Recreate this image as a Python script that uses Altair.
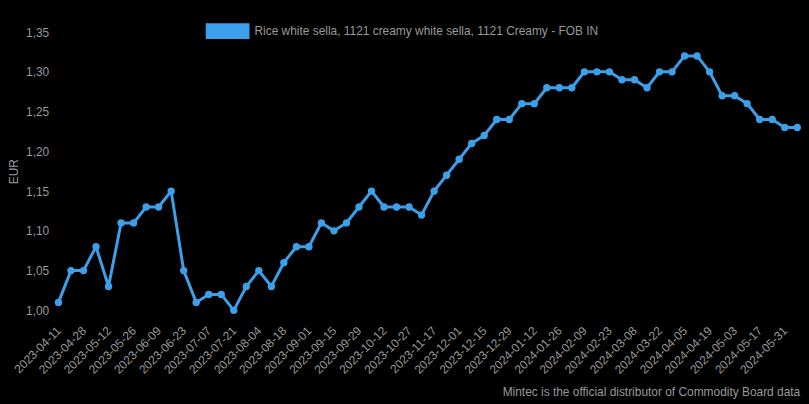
import altair as alt
import pandas as pd

series_name = "Rice white sella, 1121 creamy white sella, 1121 Creamy - FOB IN"

dates = [
    "2023-04-11", "2023-04-21", "2023-04-28", "2023-05-05", "2023-05-12", "2023-05-19",
    "2023-05-26", "2023-06-02", "2023-06-09", "2023-06-16", "2023-06-23", "2023-06-30",
    "2023-07-07", "2023-07-14", "2023-07-21", "2023-07-28", "2023-08-04", "2023-08-11",
    "2023-08-18", "2023-08-25", "2023-09-01", "2023-09-08", "2023-09-15", "2023-09-22",
    "2023-09-29", "2023-10-06", "2023-10-12", "2023-10-20", "2023-10-27", "2023-11-03",
    "2023-11-17", "2023-11-24", "2023-12-01", "2023-12-08", "2023-12-15", "2023-12-22",
    "2023-12-29", "2024-01-05", "2024-01-12", "2024-01-19", "2024-01-26", "2024-02-02",
    "2024-02-09", "2024-02-16", "2024-02-23", "2024-03-01", "2024-03-08", "2024-03-15",
    "2024-03-22", "2024-03-29", "2024-04-05", "2024-04-12", "2024-04-19", "2024-04-26",
    "2024-05-03", "2024-05-10", "2024-05-17", "2024-05-24", "2024-05-31", "2024-06-07",
]

prices = [
    1.01, 1.05, 1.05, 1.08, 1.03, 1.11, 1.11, 1.13, 1.13, 1.15,
    1.05, 1.01, 1.02, 1.02, 1.00, 1.03, 1.05, 1.03, 1.06, 1.08,
    1.08, 1.11, 1.10, 1.11, 1.13, 1.15, 1.13, 1.13, 1.13, 1.12,
    1.15, 1.17, 1.19, 1.21, 1.22, 1.24, 1.24, 1.26, 1.26, 1.28,
    1.28, 1.28, 1.30, 1.30, 1.30, 1.29, 1.29, 1.28, 1.30, 1.30,
    1.32, 1.32, 1.30, 1.27, 1.27, 1.26, 1.24, 1.24, 1.23, 1.23,
]

tick_labels = dates[0::2]
y_ticks = [1.00, 1.05, 1.10, 1.15, 1.20, 1.25, 1.30, 1.35]

df = pd.DataFrame({"date": dates, "price": prices, "series": [series_name] * len(dates)})

blue = "#3ba0e9"
grey = "#999999"
font = "Liberation Sans"

# Black page background so the 8px page margin matches the chart background
try:
    import altair.utils.html as _ah

    _orig_tpl = _ah.TEMPLATES["standard"]

    class _BlackPage:
        def render(self, *args, **kwargs):
            html = _orig_tpl.render(*args, **kwargs)
            return html.replace(
                "<head>",
                "<head><style>html,body{background:#000;overflow:hidden;}</style>",
                1,
            )

    _ah.TEMPLATES["standard"] = _BlackPage()
except Exception:
    pass

x_enc = alt.X(
    "date:N",
    sort=None,
    scale=alt.Scale(type="point", padding=0.3),
    axis=alt.Axis(
        values=tick_labels,
        title=None,
        labelAngle=-45,
        labelAlign="right",
        labelBaseline="middle",
        labelPadding=10,
        labelColor=grey,
        labelFontSize=12,
        labelFont=font,
        ticks=False,
        domain=False,
        grid=False,
    ),
)
y_enc = alt.Y(
    "price:Q",
    scale=alt.Scale(domain=[0.99, 1.36], nice=False, zero=False),
    axis=alt.Axis(
        values=y_ticks,
        title="EUR",
        titleColor=grey,
        titleFontSize=12,
        titleFontWeight="normal",
        titleFont=font,
        titlePadding=5,
        labelExpr="replace(format(datum.value, '.2f'), '.', ',')",
        labelColor=grey,
        labelFontSize=12,
        labelFont=font,
        labelPadding=6,
        ticks=False,
        domain=False,
        grid=False,
    ),
)
color_enc = alt.Color(
    "series:N",
    scale=alt.Scale(range=[blue]),
    legend=alt.Legend(
        title=None,
        orient="none",
        legendX=152,
        legendY=-15,
        symbolType="M-1,-0.364L1,-0.364L1,0.364L-1,0.364Z",
        symbolSize=1936,
        symbolFillColor=blue,
        symbolStrokeWidth=0,
        labelColor=grey,
        labelFontSize=12,
        labelFont=font,
        labelOffset=5,
        padding=0,
        labelLimit=600,
    ),
)

base = alt.Chart(df).encode(x=x_enc, y=y_enc, color=color_enc)
line = base.mark_line(strokeWidth=3)
points = base.mark_circle(size=55, opacity=1)

chart = (
    alt.layer(line, points)
    .properties(
        width=751,
        height=296,
        padding={"left": 47, "top": 15, "right": 0, "bottom": 85},
        autosize=alt.AutoSizeParams(type="none"),
        background="black",
        title=alt.TitleParams(
            text="Mintec is the official distributor of Commodity Board data",
            orient="bottom",
            anchor="end",
            color=grey,
            fontSize=12,
            fontWeight="normal",
            font=font,
            offset=12,
            dx=-3,
        ),
    )
    .configure_view(stroke=None)
)

chart.save("out.html", embed_options={"renderer": "svg", "actions": False})
